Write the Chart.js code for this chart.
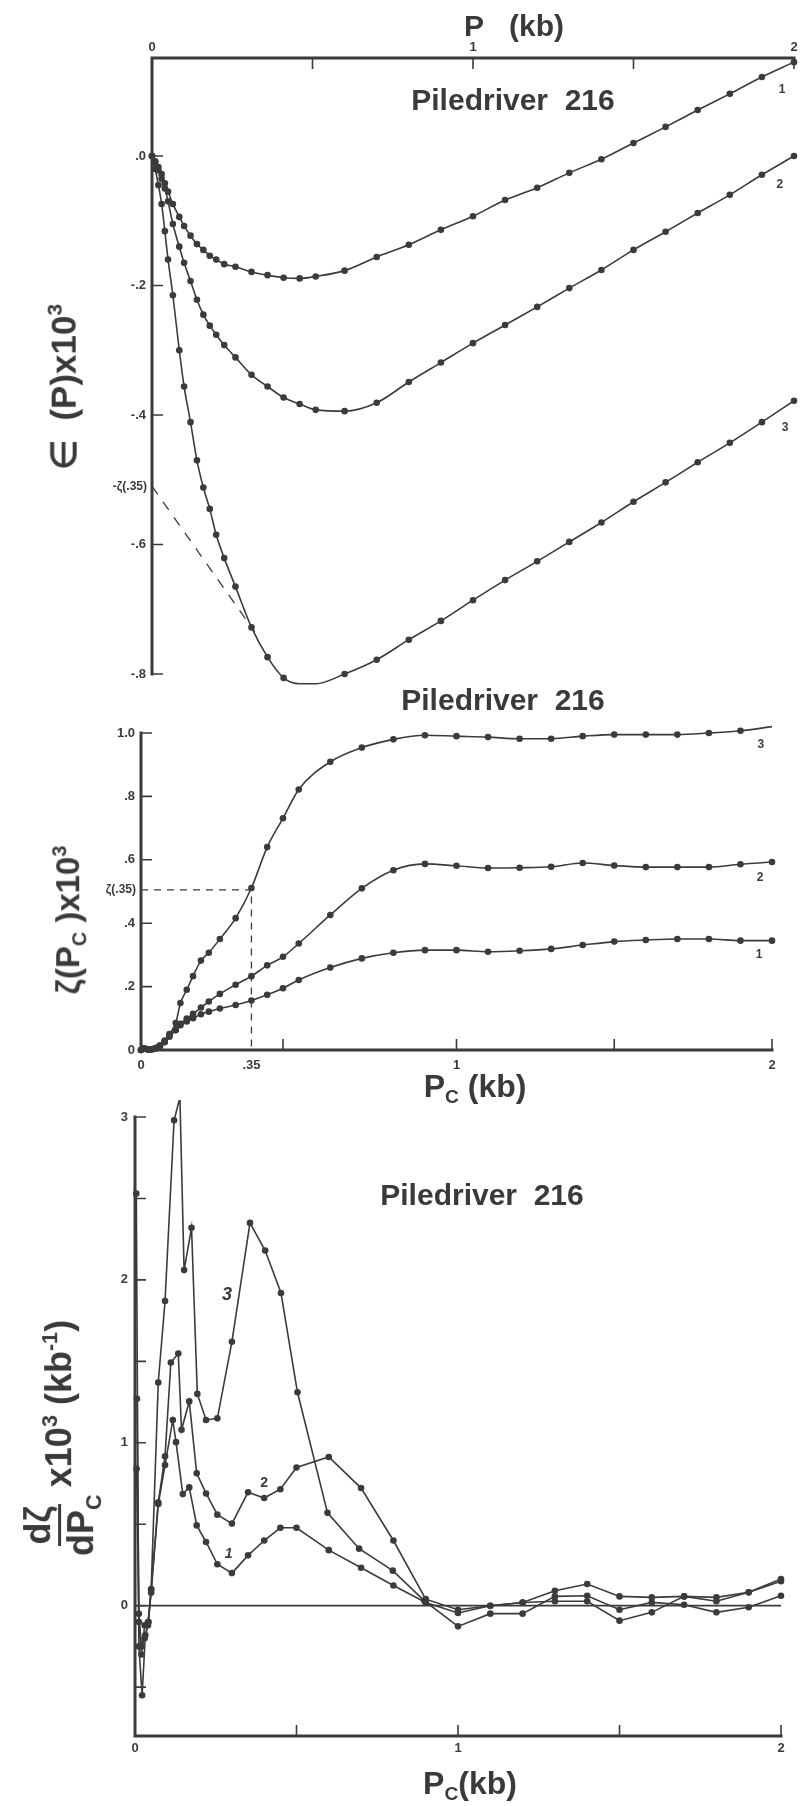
<!doctype html>
<html lang="en">
<head>
<meta charset="utf-8">
<title>Piledriver 216</title>
<script src="https://cdn.jsdelivr.net/npm/chart.js@4"></script>
<style>
  html, body { margin: 0; padding: 0; background: #fff; }
  #page { position: relative; width: 801px; height: 1806px; overflow: hidden; background: #fff; }
  canvas { position: absolute; left: 0; }
  .t { position: absolute; transform: translate(-50%, -50%); white-space: nowrap;
       font-family: "Liberation Sans", Arial, sans-serif; font-weight: bold; color: #3a3a3a; line-height: 1; }
  .rot { transform: translate(-50%, -50%) rotate(-90deg); }
  .t sub { font-size: 0.6em; vertical-align: -0.35em; }
  .t sup { font-size: 0.6em; vertical-align: 0.65em; }
  .frac { display: inline-flex; flex-direction: column; align-items: center; vertical-align: middle; margin-right: 0.2em; }
  .frac .num { border-bottom: 3px solid #3a3a3a; padding: 0 0.05em 0.05em; }
  .frac .den { padding-top: 0.05em; }
</style>
</head>
<body>
<div id="page">
  <canvas id="c1" width="801" height="700" style="top:0"></canvas>
  <canvas id="c2" width="801" height="420" style="top:680px"></canvas>
  <canvas id="c3" width="801" height="706" style="top:1100px"></canvas>

  <div class="t" style="left:514px;top:26px;font-size:30px">P&nbsp;&nbsp;&nbsp;(kb)</div>
  <div class="t" style="left:513px;top:100px;font-size:30px">Piledriver&nbsp; 216</div>
  <div class="t rot" style="left:62px;top:387px;font-size:35px">&isin;&nbsp; (P)x10<sup>3</sup></div>

  <div class="t" style="left:503px;top:700px;font-size:30px">Piledriver&nbsp; 216</div>
  <div class="t rot" style="left:70px;top:920px;font-size:33px">&zeta;(P<sub>C</sub> )x10<sup>3</sup></div>
  <div class="t" style="left:475px;top:1088px;font-size:32px">P<sub>C</sub> (kb)</div>

  <div class="t" style="left:482px;top:1195px;font-size:30px">Piledriver&nbsp; 216</div>
  <div class="t rot" style="left:62px;top:1438px;font-size:36px"><span class="frac"><span class="num">d&zeta;</span><span class="den">dP<sub>C</sub></span></span>x10<sup>3</sup> (kb<sup>-1</sup>)</div>
  <div class="t" style="left:470px;top:1785px;font-size:32px">P<sub>C</sub>(kb)</div>
</div>

<script>
  const ink = '#3b3b3b';

  // ---- top panel: e(P) x 10^3 against P (kb)
  const pTop = [0, 0.01, 0.02, 0.03, 0.04, 0.05, 0.065, 0.085, 0.1, 0.12, 0.14, 0.16, 0.18, 0.2, 0.225, 0.26,
                0.31, 0.36, 0.41, 0.46, 0.51, 0.6, 0.7, 0.8, 0.9, 1.0, 1.1, 1.2, 1.3, 1.4, 1.5, 1.6, 1.7, 1.8, 1.9, 2.0];
  const eps1 = [0, -0.008, -0.017, -0.028, -0.042, -0.055, -0.074, -0.094, -0.108, -0.123, -0.136, -0.145, -0.154, -0.160, -0.167, -0.171,
                -0.179, -0.184, -0.188, -0.189, -0.186, -0.177, -0.156, -0.137, -0.114, -0.093, -0.068, -0.049, -0.026, -0.005, 0.020, 0.045, 0.071, 0.096, 0.122, 0.145];
  const eps2 = [0, -0.01, -0.022, -0.035, -0.05, -0.07, -0.105, -0.14, -0.165, -0.193, -0.222, -0.245, -0.262, -0.276, -0.292, -0.311,
                -0.338, -0.356, -0.373, -0.383, -0.392, -0.394, -0.381, -0.349, -0.319, -0.289, -0.261, -0.233, -0.204, -0.176, -0.145, -0.117, -0.088, -0.060, -0.029, 0.0];
  const eps3 = [0, -0.02, -0.045, -0.074, -0.116, -0.16, -0.215, -0.3, -0.356, -0.411, -0.47, -0.512, -0.545, -0.585, -0.621, -0.665,
                -0.728, -0.774, -0.806, -0.815, -0.815, -0.800, -0.778, -0.747, -0.718, -0.686, -0.655, -0.626, -0.596, -0.566, -0.534, -0.504, -0.473, -0.443, -0.411, -0.378];
  const tangentP = [0, 0.32];
  const tangentE = [-0.51, -0.735];
  const topTicks = [0.5, 1, 1.5, 2];
  const topLabelVals = [0, 1, 2];
  const topLabelText = ['0', '1', '2'];
  const epsTicks = [0, -0.2, -0.4, -0.6, -0.8];
  const epsTickText = ['.0', '-.2', '-.4', '-.6', '-.8'];

  // ---- middle panel: zeta(Pc) x 10^3 against Pc (kb)
  const pMid = [0, 0.01, 0.02, 0.03, 0.04, 0.05, 0.06, 0.075, 0.09, 0.11, 0.125, 0.145, 0.165, 0.19, 0.215, 0.25,
                0.3, 0.35, 0.4, 0.45, 0.5, 0.6, 0.7, 0.8, 0.9, 1.0, 1.1, 1.2, 1.3, 1.4, 1.5, 1.6, 1.7, 1.8, 1.9, 2.0];
  const zeta1 = [0, 0.004, 0.002, 0.001, 0.003, 0.006, 0.012, 0.025, 0.042, 0.062, 0.078, 0.09, 0.1, 0.113, 0.121, 0.131,
                 0.142, 0.156, 0.174, 0.195, 0.221, 0.26, 0.289, 0.307, 0.315, 0.315, 0.31, 0.313, 0.319, 0.331, 0.342, 0.347, 0.35, 0.35, 0.345, 0.345];
  const zeta2 = [0, 0.004, 0.002, 0.001, 0.003, 0.006, 0.012, 0.025, 0.045, 0.065, 0.083, 0.099, 0.114, 0.134, 0.153, 0.177,
                 0.206, 0.233, 0.267, 0.294, 0.336, 0.426, 0.51, 0.567, 0.587, 0.581, 0.574, 0.575, 0.578, 0.59, 0.582, 0.577, 0.577, 0.577, 0.586, 0.593];
  const zeta3 = [0, 0.005, 0.003, 0.002, 0.004, 0.008, 0.015, 0.03, 0.05, 0.085, 0.148, 0.19, 0.233, 0.282, 0.307, 0.35,
                 0.416, 0.511, 0.64, 0.731, 0.822, 0.909, 0.954, 0.98, 0.993, 0.99, 0.987, 0.982, 0.982, 0.99, 0.995, 0.995, 0.995, 1.0, 1.007, 1.02];
  const zeta35 = 0.505;
  const midTicks = [0.45, 1, 1.5, 2];
  const midLabelVals = [0, 0.35, 1, 2];
  const midLabelText = ['0', '.35', '1', '2'];
  const zetaTicks = [1, 0.8, 0.6, 0.4, 0.2];
  const zetaLabelVals = [1, 0.8, 0.6, 0.4, 0.2, 0];
  const zetaLabelText = ['1.0', '.8', '.6', '.4', '.2', '0'];

  // ---- bottom panel: d zeta / d Pc x 10^3 against Pc (kb)
  const pRate1 = [0.005, 0.012, 0.02, 0.03, 0.04, 0.05, 0.072, 0.093, 0.117, 0.127, 0.148, 0.168, 0.191, 0.22, 0.255, 0.30,
                  0.35, 0.40, 0.45, 0.50, 0.60, 0.70, 0.80, 0.90, 1.0, 1.1, 1.2, 1.3, 1.4, 1.5, 1.6, 1.7, 1.8, 1.9, 2.0];
  const rate1 = [0.84, -0.1, -0.3, -0.12, -0.1, 0.08, 0.624, 0.863, 1.14, 1.004, 0.685, 0.726, 0.493, 0.391, 0.254, 0.20,
                 0.309, 0.40, 0.478, 0.478, 0.341, 0.233, 0.124, 0.02, -0.045, 0.0, 0.02, 0.027, 0.027, -0.092, -0.041, 0.057, 0.027, 0.082, 0.15];
  const pRate2 = [0.006, 0.012, 0.02, 0.03, 0.04, 0.05, 0.072, 0.093, 0.111, 0.134, 0.144, 0.168, 0.191, 0.22, 0.255, 0.30,
                  0.35, 0.40, 0.45, 0.50, 0.60, 0.70, 0.80, 0.90, 1.0, 1.1, 1.2, 1.3, 1.4, 1.5, 1.6, 1.7, 1.8, 1.9, 2.0];
  const rate2 = [1.27, -0.05, -0.25, -0.2, -0.12, 0.1, 0.635, 0.917, 1.493, 1.548, 1.08, 1.254, 0.813, 0.689, 0.559, 0.504,
                 0.696, 0.661, 0.715, 0.848, 0.913, 0.722, 0.40, 0.04, -0.025, 0.0, 0.02, 0.092, 0.133, 0.057, 0.051, 0.057, 0.051, 0.082, 0.164];
  const pRate3 = [0.004, 0.012, 0.022, 0.032, 0.042, 0.05, 0.072, 0.093, 0.121, 0.139, 0.152, 0.175, 0.193, 0.22, 0.255, 0.30,
                  0.356, 0.403, 0.452, 0.503, 0.596, 0.694, 0.798, 0.896, 1.0, 1.1, 1.2, 1.3, 1.4, 1.5, 1.6, 1.7, 1.8, 1.9, 2.0];
  const rate3 = [2.53, -0.25, -0.55, -0.18, -0.1, 0.1, 1.37, 1.87, 2.98, 3.12, 2.06, 2.32, 1.30, 1.14, 1.15, 1.62,
                 2.35, 2.18, 1.92, 1.31, 0.57, 0.35, 0.215, 0.03, -0.127, -0.049, -0.049, 0.057, 0.061, -0.025, 0.02, 0.006, -0.041, -0.01, 0.061];
  const botTicks = [0.5, 1, 1.5, 2];
  const botLabelVals = [0, 1, 2];
  const botLabelText = ['0', '1', '2'];
  const rateTicks = [3, 2.5, 2, 1.5, 1, 0.5, 0, -0.5];
  const rateLabelVals = [3, 2, 1, 0];
  const rateLabelText = ['3', '2', '1', '0'];

  // curve numbers written next to the lines (curves 1, 2, 3)
  const topCurveP = [1.963, 1.956, 1.972];
  const topCurveV = [0.102, -0.045, -0.42];
  const midCurveP = [1.959, 1.962, 1.965];
  const midCurveV = [0.30, 0.543, 0.962];
  const botCurveP = [0.29, 0.40, 0.285];
  const botCurveV = [0.315, 0.754, 1.906];
  const curveText = ['1', '2', '3'];

  const pts = (xs, ys) => xs.map((x, i) => ({ x: x, y: ys[i] }));
  const font = (s) => 'bold ' + s + 'px "Liberation Sans", Arial, sans-serif';

  const framePlugin = {
    id: 'frame',
    afterDatasetsDraw(chart, args, o) {
      const { ctx, chartArea: a } = chart;
      const sx = chart.scales.x, sy = chart.scales.y;
      const top = o.xSide === 'top';
      const ay = top ? a.top : a.bottom;
      ctx.save();
      ctx.strokeStyle = ink;
      ctx.fillStyle = ink;
      ctx.lineCap = 'square';
      ctx.lineWidth = 3;
      ctx.beginPath();
      ctx.moveTo(a.left, ay); ctx.lineTo(a.right, ay);
      ctx.moveTo(a.left, a.top); ctx.lineTo(a.left, a.bottom);
      ctx.stroke();

      ctx.lineWidth = 1.6;
      ctx.lineCap = 'butt';
      ctx.beginPath();
      o.xTicks.forEach(v => {
        const px = sx.getPixelForValue(v);
        ctx.moveTo(px, ay); ctx.lineTo(px, ay + (top ? 1 : -1) * o.tickLen);
      });
      o.yTicks.forEach(v => {
        const py = sy.getPixelForValue(v);
        ctx.moveTo(a.left, py); ctx.lineTo(a.left + o.tickLen, py);
      });
      ctx.stroke();

      ctx.font = font(13);
      ctx.textAlign = 'center';
      ctx.textBaseline = 'middle';
      o.xLabelVals.forEach((v, i) => {
        ctx.fillText(o.xLabelText[i], sx.getPixelForValue(v), ay + (top ? -1 : 1) * o.xGap);
      });
      ctx.textAlign = 'right';
      o.yLabelVals.forEach((v, i) => {
        ctx.fillText(o.yLabelText[i], a.left - o.yGap, sy.getPixelForValue(v));
      });

      (o.notes || []).forEach(n => {
        ctx.font = (n.italic ? 'italic ' : '') + font(n.size);
        ctx.textAlign = n.align || 'center';
        ctx.fillText(n.text, sx.getPixelForValue(n.x) + (n.dx || 0), sy.getPixelForValue(n.y));
      });
      ctx.restore();
    }
  };

  function curve(data, smooth, extra) {
    return Object.assign({
      data: data,
      borderColor: ink,
      borderWidth: 1.6,
      pointRadius: 3.3,
      pointBackgroundColor: ink,
      pointBorderWidth: 0,
      cubicInterpolationMode: smooth ? 'monotone' : 'default',
      tension: 0,
      clip: false
    }, extra || {});
  }

  function makeChart(id, datasets, xs, ys, pad, frame) {
    return new Chart(document.getElementById(id), {
      type: 'line',
      data: { datasets: datasets },
      options: {
        responsive: false,
        animation: false,
        devicePixelRatio: 1,
        layout: { padding: pad },
        scales: {
          x: Object.assign({ type: 'linear', display: false }, xs),
          y: Object.assign({ type: 'linear', display: false }, ys)
        },
        plugins: { legend: { display: false }, tooltip: { enabled: false }, frame: frame }
      },
      plugins: [framePlugin]
    });
  }

  function numberNotes(ps, vs, size, italic) {
    return ps.map((p, i) => ({ x: p, y: vs[i], text: curveText[i], size: size, italic: italic }));
  }

  // top panel
  makeChart('c1', [
      curve(pts(pTop, eps1), true),
      curve(pts(pTop, eps2), true),
      curve(pts(pTop, eps3), true),
      curve(pts(tangentP, tangentE), false, { pointRadius: 0, borderWidth: 1.3, borderDash: [10, 9] })
    ],
    { min: 0, max: 2 }, { min: -0.8, max: 0.1514 },
    { left: 152, right: 7, top: 58, bottom: 26 },
    {
      xSide: 'top', tickLen: 11, xGap: 11, yGap: 6,
      xTicks: topTicks, xLabelVals: topLabelVals, xLabelText: topLabelText,
      yTicks: epsTicks, yLabelVals: epsTicks, yLabelText: epsTickText,
      notes: numberNotes(topCurveP, topCurveV, 12, false).concat([
        { x: 0, y: tangentE[0], text: '-\u03b6(.35)', size: 12, align: 'right', dx: -5 }
      ])
    });

  // middle panel
  makeChart('c2', [
      curve(pts(pMid, zeta1), true),
      curve(pts(pMid, zeta2), true),
      curve(pts(pMid, zeta3), true),
      curve(pts([0, 0.35, 0.35], [zeta35, zeta35, 0]), false, { pointRadius: 0, borderWidth: 1.3, borderDash: [7, 6] })
    ],
    { min: 0, max: 2 }, { min: 0, max: 1 },
    { left: 141, right: 29, top: 53, bottom: 50 },
    {
      xSide: 'bottom', tickLen: 11, xGap: 15, yGap: 6,
      xTicks: midTicks, xLabelVals: midLabelVals, xLabelText: midLabelText,
      yTicks: zetaTicks, yLabelVals: zetaLabelVals, yLabelText: zetaLabelText,
      notes: numberNotes(midCurveP, midCurveV, 12, false).concat([
        { x: 0, y: zeta35, text: '\u03b6(.35)', size: 12, align: 'right', dx: -5 }
      ])
    });

  // bottom panel
  makeChart('c3', [
      curve(pts([0, 2], [0, 0]), false, { pointRadius: 0, borderWidth: 1.8 }),
      curve(pts(pRate1, rate1), false),
      curve(pts(pRate2, rate2), false),
      curve(pts(pRate3, rate3), false)
    ],
    { min: 0, max: 2 }, { min: -0.8, max: 3 },
    { left: 135, right: 20, top: 17, bottom: 70 },
    {
      xSide: 'bottom', tickLen: 11, xGap: 12, yGap: 7,
      xTicks: botTicks, xLabelVals: botLabelVals, xLabelText: botLabelText,
      yTicks: rateTicks, yLabelVals: rateLabelVals, yLabelText: rateLabelText,
      notes: [
        { x: botCurveP[0], y: botCurveV[0], text: '1', size: 14, italic: true },
        { x: botCurveP[1], y: botCurveV[1], text: '2', size: 14, italic: false },
        { x: botCurveP[2], y: botCurveV[2], text: '3', size: 18, italic: true }
      ]
    });
</script>
</body>
</html>
